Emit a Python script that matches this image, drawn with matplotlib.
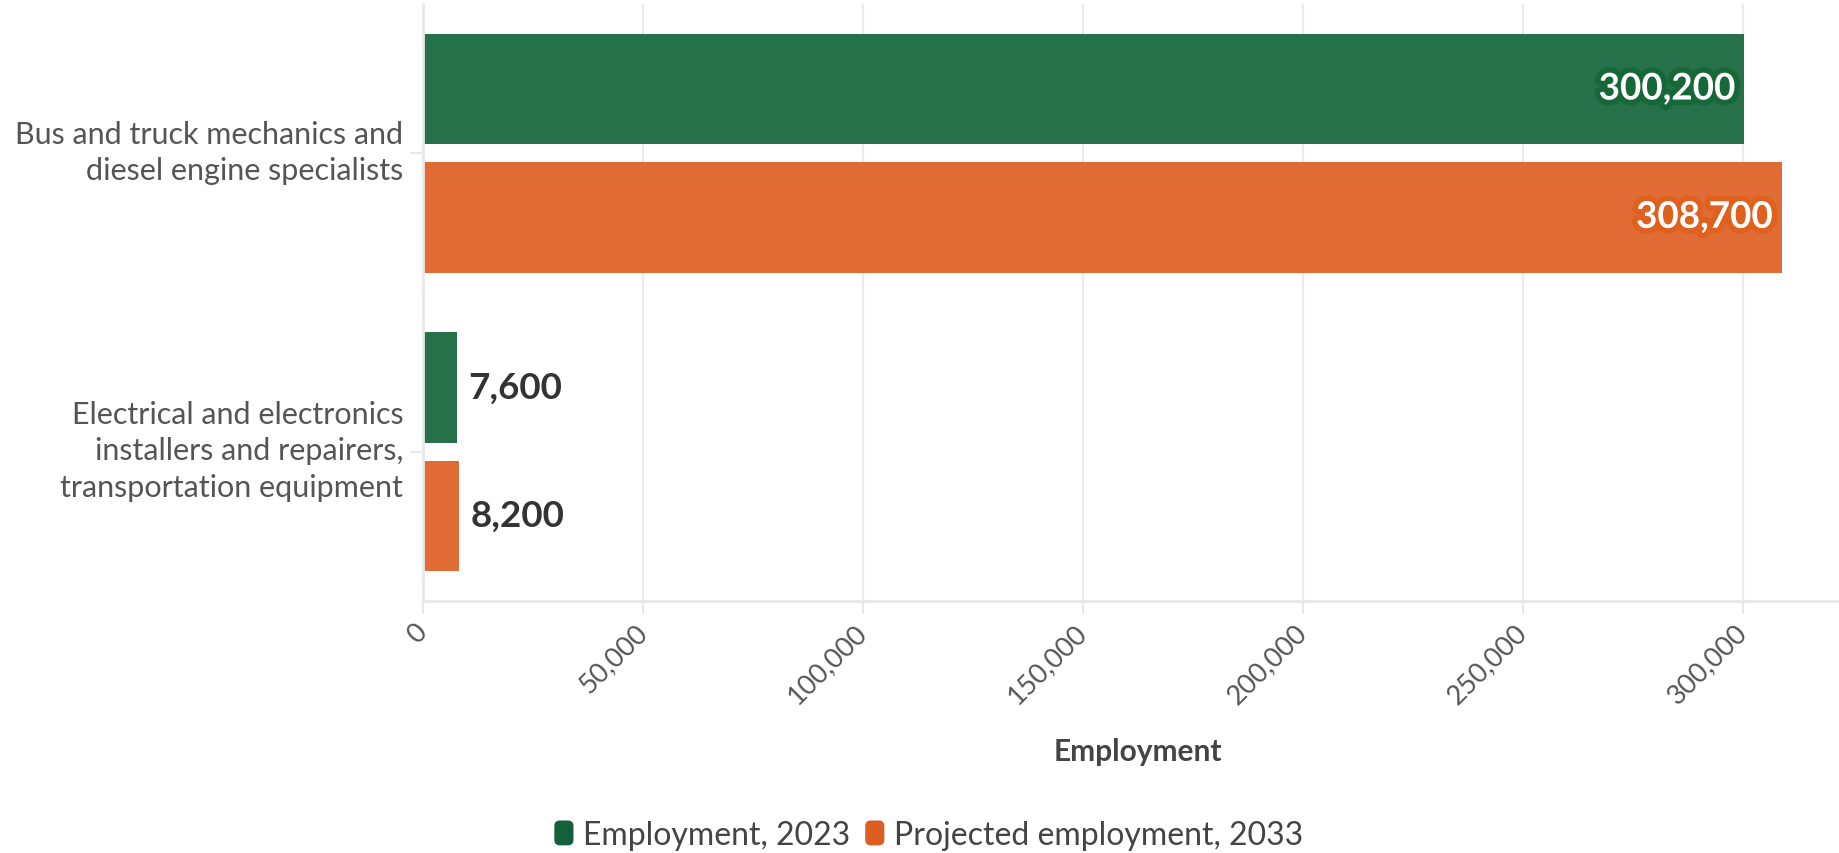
import matplotlib
matplotlib.use('Agg')
import matplotlib.pyplot as plt
import matplotlib.patheffects as pe
import matplotlib.transforms as mtransforms
from matplotlib.patches import Patch, FancyBboxPatch
from matplotlib.legend_handler import HandlerPatch
import numpy as np

occupations = ['Bus and truck mechanics and\ndiesel engine specialists',
               'Electrical and electronics\ninstallers and repairers,\ntransportation equipment']
emp_2023 = [300200, 7600]
emp_2033 = [308700, 8200]
series_names = ['Employment, 2023', 'Projected employment, 2033']
bar_colors = ['#27714a', '#e06b35']
swatch_colors = ['#13603a', '#dd5e22']
halo_colors = ['#176838', '#e0601d']
xticks = [0, 50000, 100000, 150000, 200000, 250000, 300000]

plt.rcParams['font.family'] = ['Lato', 'DejaVu Sans']

fig = plt.figure(figsize=(18.39, 8.54), dpi=100)
ax = fig.add_axes([0.2302, 0.2954, 0.7698, 0.6987])

y = np.arange(len(occupations))
h = 0.37
off = 0.215
for vals, dy, col, halo in zip([emp_2023, emp_2033], [-off, off], bar_colors, halo_colors):
    bars = ax.barh(y + dy, vals, height=h, color=col, zorder=2)
    for b, v in zip(bars, vals):
        cy = b.get_y() + b.get_height() / 2
        if v > 100000:
            # big bars: white label inside, with a halo in the bar colour
            ax.annotate(f'{v:,}', (v, cy), xytext=(-6.5, 0), textcoords='offset points',
                        ha='right', va='center', color='white', fontsize=26.5, fontweight='bold',
                        path_effects=[pe.withStroke(linewidth=8, foreground=halo)], zorder=3)
        else:
            ax.annotate(f'{v:,}', (v, cy), xytext=(8.4, 0), textcoords='offset points',
                        ha='left', va='center', color='#333333', fontsize=26.5, fontweight='bold',
                        zorder=3)

ax.set_ylim(1.5, -0.5)
ax.set_xlim(0, 321750)
ax.set_yticks(y)
ax.set_yticklabels(occupations, linespacing=1.38)
ax.set_xticks(xticks)
ax.set_xticklabels([f'{t:,}' for t in xticks])

ax.grid(axis='x', color='#ebebeb', linewidth=1.6)
ax.set_axisbelow(True)
for s in ['top', 'right']:
    ax.spines[s].set_visible(False)
for s in ['left', 'bottom']:
    ax.spines[s].set_color('#e8e8e8')
    ax.spines[s].set_linewidth(2)

ax.tick_params(axis='y', length=9.4, width=1.5, color='#e8e8e8', pad=5,
               labelsize=22, labelcolor='#555555')
ax.tick_params(axis='x', length=9.4, width=1.5, color='#e8e8e8', pad=10,
               labelsize=19.5, labelcolor='#555555')
for lab in ax.get_xticklabels():
    lab.set_rotation(45)
    lab.set_ha('right')
    lab.set_va('center')
    lab.set_rotation_mode('anchor')

# nudge the category names up a little
lift = mtransforms.ScaledTranslation(0, 5.8 / 72, fig.dpi_scale_trans)
for lab in ax.get_yticklabels():
    lab.set_transform(lab.get_transform() + lift)

ax.set_xlabel('Employment', fontsize=21.5, fontweight='bold', color='#444444', va='center')
ax.xaxis.set_label_coords(0.5045, -0.2514)


class RoundSwatch(HandlerPatch):
    def create_artists(self, legend, orig_handle, xdescent, ydescent, width, height, fontsize, trans):
        p = FancyBboxPatch((-xdescent, -ydescent), width, height,
                           boxstyle='round,pad=0,rounding_size=4',
                           facecolor=orig_handle.get_facecolor(), edgecolor='none',
                           transform=trans)
        return [p]


handles = [Patch(facecolor=c) for c in swatch_colors]
fig.legend(handles, series_names, loc='center', bbox_to_anchor=(0.505, 1 - 836 / 854),
           ncol=2, frameon=False, fontsize=23, labelcolor='#444444',
           handlelength=0.6, handleheight=0.82, handletextpad=0.3, columnspacing=0.47,
           handler_map={Patch: RoundSwatch()})

fig.savefig('out.png', dpi=100)
